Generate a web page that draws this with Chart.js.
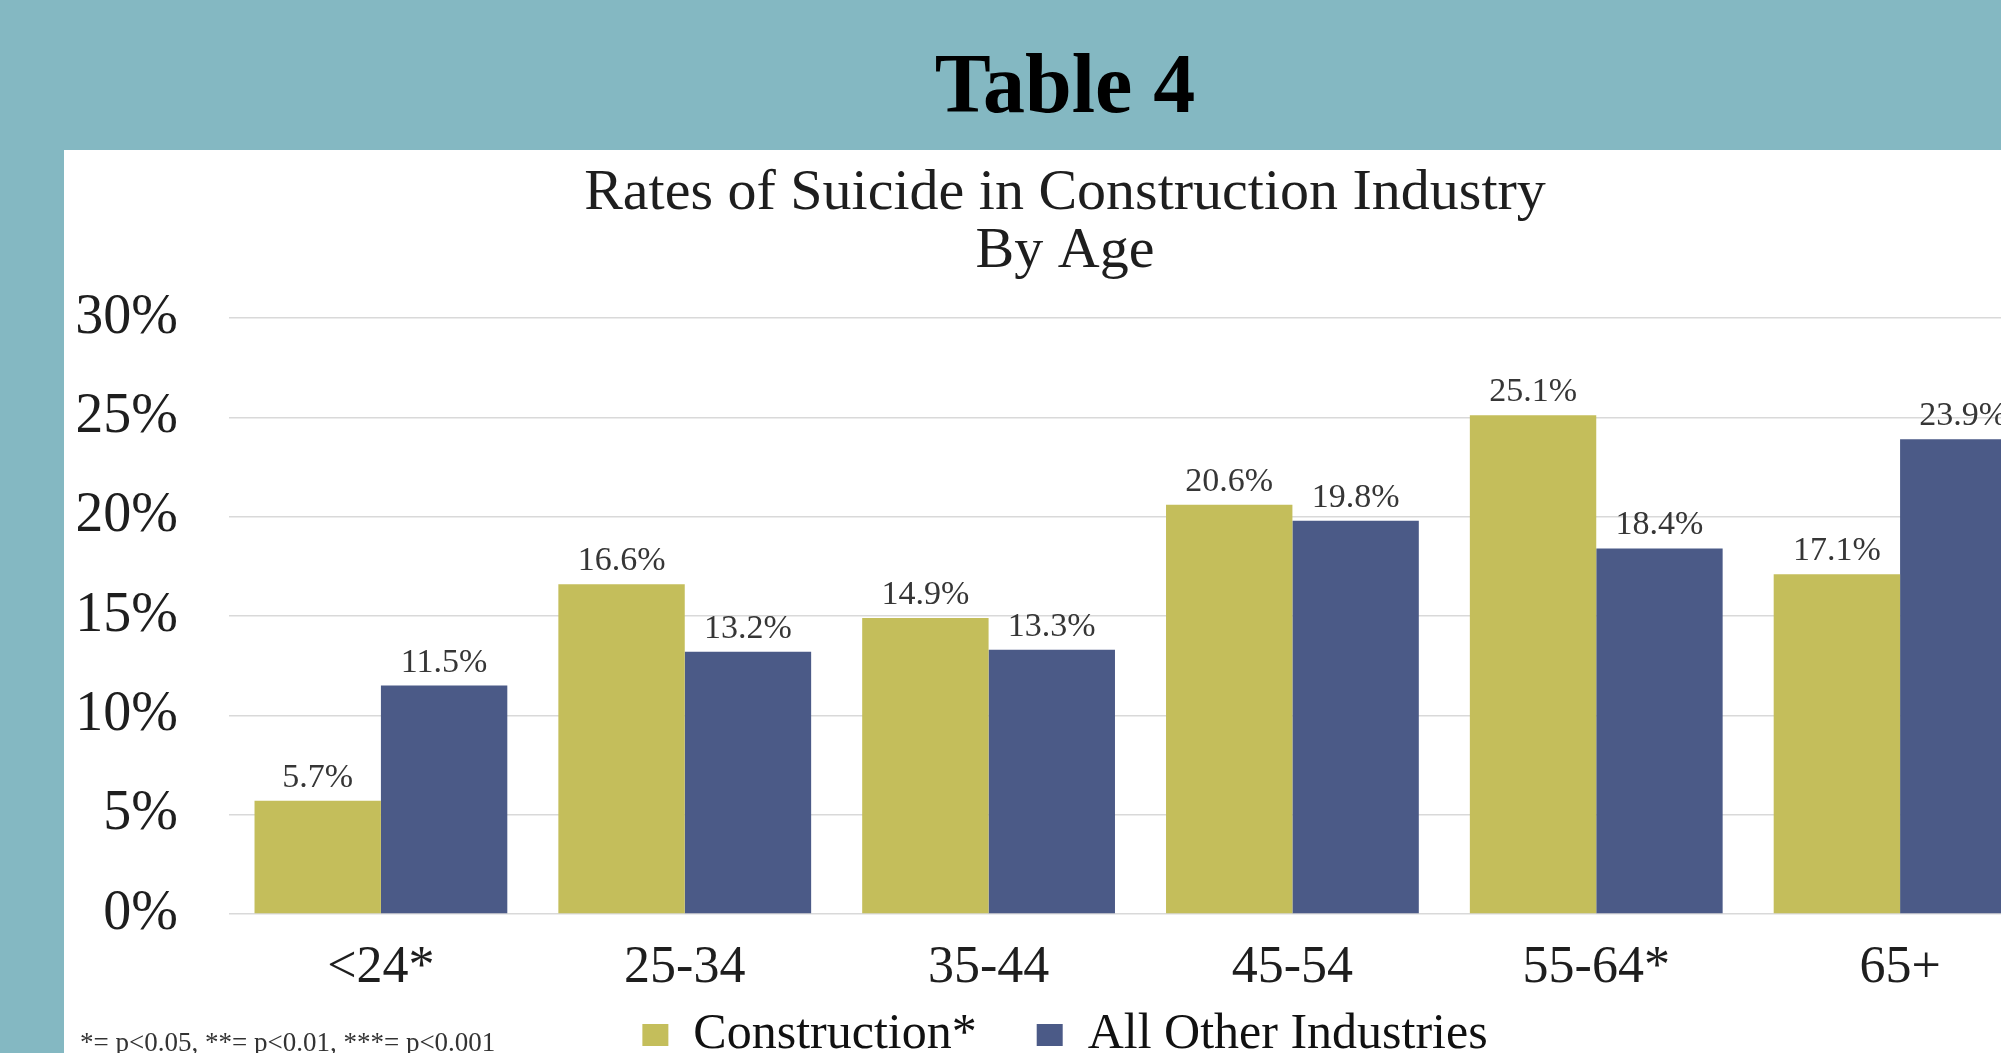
<!DOCTYPE html>
<html>
<head>
<meta charset="utf-8">
<script src="https://cdn.jsdelivr.net/npm/chart.js@4/dist/chart.umd.min.js"></script>
<style>
  html, body { margin: 0; padding: 0; width: 2001px; height: 1053px; overflow: hidden; background: #84b8c2; font-family: "Liberation Serif", serif; }
  #heading { position: absolute; left: 0; top: 42px; width: 2130px; text-align: center; font: bold 84px/84px "Liberation Serif", serif; color: #000; }
  #panel { position: absolute; left: 64px; top: 150px; width: 2002px; height: 1000px; background: #fff; }
  #note { position: absolute; left: 80px; top: 1029px; font: 27px/27px "Liberation Serif", serif; color: #333; white-space: nowrap; }
</style>
</head>
<body>
<div id="heading">Table 4</div>
<div id="panel"><canvas id="chart"></canvas></div>
<div id="note">*= p&lt;0.05, **= p&lt;0.01, ***= p&lt;0.001</div>
<script>
const AGES = ["<24*", "25-34", "35-44", "45-54", "55-64*", "65+"];
const CONSTRUCTION = [5.7, 16.6, 14.9, 20.6, 25.1, 17.1];
const OTHER = [11.5, 13.2, 13.3, 19.8, 18.4, 23.9];
const Y_TICKS = [0, 5, 10, 15, 20, 25, 30];

const GOLD = "#c4be5b";
const BLUE = "#4b5a87";
const SERIF = "'Liberation Serif', serif";

// value labels above each bar
const barValues = {
  id: "barValues",
  afterDatasetsDraw(chart) {
    const ctx = chart.ctx;
    ctx.save();
    ctx.font = "34px " + SERIF;
    ctx.fillStyle = "#363636";
    ctx.textAlign = "center";
    ctx.textBaseline = "alphabetic";
    chart.data.datasets.forEach((ds, i) => {
      chart.getDatasetMeta(i).data.forEach((bar, j) => {
        ctx.fillText(ds.data[j].toFixed(1) + "%", bar.x, bar.y - 14);
      });
    });
    ctx.restore();
  },
};

// legend padding also spaces the items apart, so pull the legend box up afterwards
const liftLegend = {
  id: "liftLegend",
  afterLayout(chart) {
    chart.legend.top -= 54;
    chart.legend.bottom -= 54;
  },
};

new Chart(document.getElementById("chart"), {
  type: "bar",
  data: {
    labels: AGES,
    datasets: [
      { label: "Construction*", data: CONSTRUCTION, backgroundColor: GOLD, borderWidth: 0 },
      { label: "All Other Industries", data: OTHER, backgroundColor: BLUE, borderWidth: 0 },
    ],
  },
  options: {
    responsive: true,
    maintainAspectRatio: false,
    animation: false,
    devicePixelRatio: 1,
    categoryPercentage: 0.832,
    barPercentage: 1.0,
    layout: { padding: { left: 14, right: 14, top: 0, bottom: 26 } },
    plugins: {
      tooltip: { enabled: false },
      title: {
        display: true,
        text: ["Rates of Suicide in Construction Industry", "By Age"],
        color: "#1e1e1e",
        font: { family: SERIF, size: 58, weight: "normal", lineHeight: 1.0 },
        padding: { top: 15, bottom: 37 },
      },
      legend: {
        position: "bottom",
        labels: {
          color: "#111",
          font: { family: SERIF, size: 50 },
          boxWidth: 26,
          boxHeight: 22,
          padding: 60,
        },
      },
    },
    scales: {
      x: {
        grid: { display: false, drawTicks: false },
        border: { display: false },
        ticks: { color: "#1e1e1e", font: { family: SERIF, size: 52 }, padding: 23, maxRotation: 0 },
        afterFit: s => { s.height = 90; },
      },
      y: {
        min: 0,
        max: 30,
        afterBuildTicks: s => { s.ticks = Y_TICKS.map(v => ({ value: v })); },
        grid: { color: "#d9d9d9", lineWidth: 1.5, drawTicks: false },
        border: { display: false },
        ticks: { color: "#1e1e1e", font: { family: SERIF, size: 56 }, padding: 51, callback: v => v + "%" },
        afterFit: s => { s.width = 151; },
      },
    },
  },
  plugins: [barValues, liftLegend],
});
</script>
</body>
</html>
